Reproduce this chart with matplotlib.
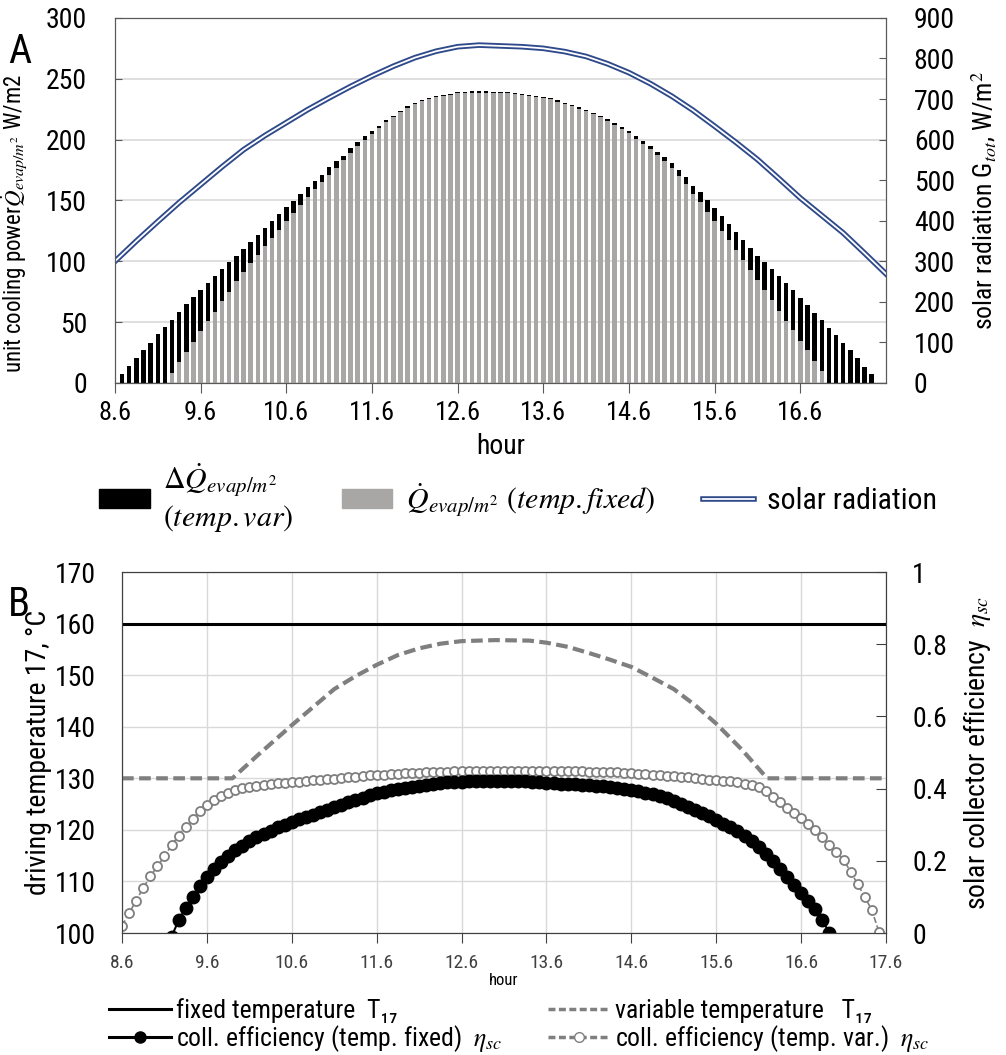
import numpy as np
import matplotlib
matplotlib.use('Agg')
import matplotlib.pyplot as plt
from matplotlib.patches import Patch
from matplotlib.lines import Line2D
import matplotlib.patheffects as pe

plt.rcParams['font.family'] = ['Roboto Condensed', 'Roboto', 'DejaVu Sans']
plt.rcParams['mathtext.fontset'] = 'stix'

# simulation time step: 5 minutes, starting at 8.6 h
t0 = 8.6
step = 1 / 12

# --- panel A: unit cooling power per 5 min step (W/m2) ---
q_fixed = [0, 0, 0, 0, 0, 0, 0, 8.5, 17.5, 25.5,
           34, 42.8, 50.8, 58.7, 67, 75, 83.4, 90.8, 98.5, 105,
           112.2, 119, 126, 132.8, 139.6, 146.5, 152.8, 159.4, 165.2, 171.2,
           176.7, 183, 189, 195, 199.7, 204.7, 209.6, 214.2, 218.4, 222.5,
           226, 229, 231.8, 233, 235.2, 235.9, 236.8, 237.9, 238.3, 238.6,
           238.6, 238.6, 238.3, 238.3, 238, 237.2, 236.6, 235.9, 235.2, 234.1,
           233, 231.2, 229.4, 227.5, 225.5, 223.6, 220.9, 218.7, 215.4, 212.1,
           208.5, 205.2, 200.8, 196.4, 192.3, 187.4, 182.1, 176.4, 169.8, 163.5,
           155.7, 148.4, 140.7, 133.1, 125.3, 117.1, 109.5, 101.2, 93, 84.8,
           76.5, 68.3, 59.5, 51.3, 43.6, 34.8, 27.2, 18.4, 10.1, 0,
           0, 0, 0, 0, 0, 0]
q_delta = [7.4, 14, 20.3, 27, 33, 40, 45.8, 43.3, 40.9, 39.3,
           36.5, 33.7, 31.2, 29.3, 26.8, 24.8, 21.1, 19.2, 17, 16.8,
           15.1, 13.8, 12.8, 11.5, 9.6, 8.8, 8.2, 6.9, 6, 6,
           5.4, 3.8, 4.2, 3.1, 3, 2.1, 1.9, 1.7, 1.4, 1.1,
           1.4, 1.1, 1.1, 1, 1, 1, 1, 1, 1, 1,
           1, 1, 1, 1, 1, 1, 1, 1, 1, 1,
           1, 1.1, 1.1, 1.1, 1.1, 1.1, 1.1, 1.1, 1.6, 1.6,
           1.6, 1.6, 1.9, 2.5, 2.7, 2.7, 3.7, 4.4, 5.5, 5.8,
           6.4, 8.2, 9.3, 10.4, 12.1, 13.8, 14.2, 16.5, 17.9, 19.7,
           23.3, 25.3, 28.6, 30.8, 32.9, 35.4, 37, 39.5, 41.8, 45.5,
           39.5, 33.2, 27.2, 20.3, 13.4, 7.4]
bar_hours = t0 + step * np.arange(1, len(q_fixed) + 1)

solar_hours = [8.6, 8.85, 9.1, 9.35, 9.6, 9.85, 10.1, 10.35, 10.6, 10.85,
               11.1, 11.35, 11.6, 11.85, 12.1, 12.35, 12.6, 12.85, 13.1, 13.35,
               13.6, 13.85, 14.1, 14.35, 14.6, 14.85, 15.1, 15.35, 15.6, 15.85,
               16.1, 16.35, 16.6, 16.85, 17.1, 17.35, 17.6]
solar_rad = [300, 350, 398, 445, 489, 533, 575, 610, 642, 674,
             703, 731, 757, 781, 802, 818, 829, 833, 831, 829,
             825, 817, 805, 787, 765, 738, 707, 672, 633, 593,
             551, 504, 456, 413, 370, 320, 269]

# --- panel B: driving temperature and collector efficiency ---
temp_fixed = 160
var_temp_hours = [8.6, 9.9, 10.2, 10.6, 10.9, 11.1, 11.35, 11.6, 11.85, 12.1,
                  12.35, 12.6, 13.0, 13.4, 13.6, 13.85, 14.1, 14.35, 14.6, 14.85,
                  15.1, 15.35, 15.6, 15.9, 16.2, 17.6]
var_temp = [130, 130, 134.5, 140.3, 144.5, 147.3, 149.8, 152.0, 153.9, 155.2,
            156.1, 156.6, 156.8, 156.7, 156.3, 155.5, 154.3, 153.0, 151.6, 149.5,
            147.3, 144.2, 140.6, 135.6, 130, 130]

eta_var = [0.02, 0.055, 0.09, 0.125, 0.157, 0.185, 0.213, 0.243, 0.27, 0.295,
           0.317, 0.337, 0.354, 0.368, 0.379, 0.388, 0.395, 0.401, 0.405, 0.408,
           0.411, 0.413, 0.415, 0.416, 0.418, 0.419, 0.421, 0.423, 0.424, 0.426,
           0.427, 0.429, 0.431, 0.433, 0.435, 0.437, 0.438, 0.439, 0.44, 0.441,
           0.442, 0.443, 0.444, 0.445, 0.446, 0.446, 0.447, 0.448, 0.449, 0.449,
           0.45, 0.45, 0.45, 0.45, 0.45, 0.45, 0.45, 0.45, 0.45, 0.449,
           0.449, 0.449, 0.449, 0.448, 0.448, 0.448, 0.447, 0.447, 0.447, 0.446,
           0.445, 0.444, 0.442, 0.441, 0.44, 0.439, 0.437, 0.436, 0.434, 0.432,
           0.431, 0.429, 0.427, 0.425, 0.424, 0.422, 0.42, 0.417, 0.414, 0.41,
           0.405, 0.393, 0.377, 0.362, 0.345, 0.332, 0.318, 0.303, 0.285, 0.265,
           0.245, 0.224, 0.203, 0.17, 0.135, 0.1, 0.063, 0.004]
eta_fixed = [-0.01, 0.035, 0.07, 0.1, 0.13, 0.155, 0.178, 0.198, 0.214, 0.229,
             0.242, 0.254, 0.265, 0.275, 0.284, 0.293, 0.3, 0.308, 0.315, 0.321,
             0.328, 0.335, 0.342, 0.349, 0.355, 0.362, 0.368, 0.374, 0.381, 0.387,
             0.391, 0.395, 0.398, 0.401, 0.404, 0.407, 0.41, 0.413, 0.415, 0.417,
             0.418, 0.419, 0.42, 0.42, 0.421, 0.421, 0.421, 0.421, 0.421, 0.42,
             0.42, 0.419, 0.418, 0.416, 0.415, 0.414, 0.413, 0.412, 0.411, 0.41,
             0.408, 0.406, 0.404, 0.402, 0.4, 0.397, 0.393, 0.389, 0.385, 0.38,
             0.373, 0.366, 0.358, 0.35, 0.342, 0.333, 0.323, 0.313, 0.303, 0.293,
             0.282, 0.27, 0.256, 0.238, 0.22, 0.2, 0.178, 0.156, 0.133, 0.11,
             0.088, 0.066, 0.036, 0.0]
eta_var_hours = t0 + step * np.arange(len(eta_var))
eta_fixed_hours = t0 + step * np.arange(7, 7 + len(eta_fixed))

hour_ticks = [8.6, 9.6, 10.6, 11.6, 12.6, 13.6, 14.6, 15.6, 16.6, 17.6]

navy = '#2F4A8A'
gray_bar = '#A9A6A6'
dgray = '#7F7F7F'
double_line = [pe.Stroke(linewidth=4.0, foreground=navy), pe.Normal()]

fig = plt.figure(figsize=(10.06, 10.55), dpi=100)

# ---------------- panel A ----------------
ax = fig.add_axes([0.1143, 0.637, 0.7664, 0.346])
ax.bar(bar_hours, q_fixed, width=0.052, color=gray_bar, zorder=2)
ax.bar(bar_hours, q_delta, width=0.052, bottom=q_fixed, color='black', zorder=2)
ax.set_xlim(8.6, 17.6)
ax.set_ylim(0, 300)
ax.set_yticks(range(0, 301, 50))
ax.set_xticks(hour_ticks[:-1])
ax.set_xticklabels([f'{h:.1f}' for h in hour_ticks[:-1]])
ax.yaxis.grid(True, color='#D9D9D9', lw=1.2)
ax.set_axisbelow(True)
ax.tick_params(axis='x', direction='out', length=7, labelsize=19, color='#595959', pad=6)
ax.tick_params(axis='y', direction='in', length=5, labelsize=20, color='#595959', pad=20)
for s in ax.spines.values():
    s.set_color('#595959')
ax.set_xlabel('hour', fontsize=20, labelpad=6)
ax.set_ylabel(r'unit cooling power$\dot{Q}_{evap/m^2}$ W/m2', fontsize=16.5, labelpad=2)
ax.yaxis.set_label_coords(-0.112, 0.435)

axr = ax.twinx()
axr.plot(solar_hours, solar_rad, color='white', lw=1.3, path_effects=double_line)
axr.set_ylim(0, 900)
axr.set_yticks(range(0, 901, 100))
axr.tick_params(axis='y', direction='in', length=5, labelsize=20, color='#595959', pad=20)
axr.set_ylabel(r'solar radiation G$_{tot}$, W/m$^2$', fontsize=18.5, labelpad=10)
for s in axr.spines.values():
    s.set_color('#595959')

fig.text(0.008, 0.94, 'A', fontsize=29)

top_handles = [Patch(color='black'), Patch(color=gray_bar),
               Line2D([], [], color='white', lw=1.3, path_effects=double_line)]
top_labels = ['$\\Delta\\dot{Q}_{evap/m^2}$\n$(temp.var)$',
              '$\\dot{Q}_{evap/m^2}\\ (temp.fixed)$',
              'solar radiation']
fig.legend(top_handles, top_labels, loc='center', bbox_to_anchor=(0.515, 0.528),
           ncol=3, frameon=False, fontsize=21.5, handlelength=1.7, handleheight=0.6,
           columnspacing=1.6, handletextpad=0.45)

# ---------------- panel B ----------------
ax2 = fig.add_axes([0.1213, 0.1156, 0.7594, 0.3422])
ax2.axhline(temp_fixed, color='black', lw=2.2, zorder=3)
ax2.plot(var_temp_hours, var_temp, color=dgray, lw=3, dashes=(2.8, 1.3), zorder=3)
ax2.set_xlim(8.6, 17.6)
ax2.set_ylim(100, 170)
ax2.set_yticks(range(100, 171, 10))
ax2.set_xticks(hour_ticks)
ax2.set_xticklabels([f'{h:.1f}' for h in hour_ticks])
ax2.grid(True, color='#D9D9D9', lw=1.0)
ax2.set_axisbelow(True)
ax2.tick_params(axis='x', direction='out', length=7, labelsize=14, color='#404040',
                labelcolor='#404040', pad=8)
ax2.tick_params(axis='y', length=0, labelsize=20, pad=19)
for s in ax2.spines.values():
    s.set_color('#404040')
ax2.set_xlabel('hour', fontsize=12, labelpad=1)
ax2.set_ylabel('driving temperature 17, °C', fontsize=20, labelpad=2)

ax2r = ax2.twinx()
ax2r.plot(eta_var_hours, eta_var, color=dgray, lw=1.2, ls='--', marker='o', ms=6.5,
          mfc='white', mec=dgray, mew=1.3, clip_on=True)
ax2r.plot(eta_fixed_hours, eta_fixed, color='black', lw=1.5, marker='o', ms=9,
          mfc='black', mec='black', clip_on=True)
ax2r.set_ylim(0, 1)
ax2r.set_yticks([0, 0.2, 0.4, 0.6, 0.8, 1])
ax2r.set_yticklabels(['0', '0.2', '0.4', '0.6', '0.8', '1'])
ax2r.tick_params(axis='y', direction='in', length=7, labelsize=20, color='#404040', pad=19)
ax2r.set_ylabel('solar collector efficiency  $\\eta_{sc}$', fontsize=20, labelpad=10)
for s in ax2r.spines.values():
    s.set_color('#404040')

fig.text(0.008, 0.416, 'B', fontsize=29)

bot_handles = [Line2D([], [], color='black', lw=2.2),
               Line2D([], [], color='black', lw=2.2, marker='o', ms=8),
               Line2D([], [], color=dgray, lw=2.5, dashes=(2, 1)),
               Line2D([], [], color=dgray, lw=2.5, dashes=(2, 1), marker='o', ms=7,
                      mfc='white', mec=dgray)]
bot_labels = ['fixed temperature  T\u2081\u2087',
              'coll. efficiency (temp. fixed)  $\\eta_{sc}$',
              'variable temperature   T\u2081\u2087',
              'coll. efficiency (temp. var.)  $\\eta_{sc}$']
fig.legend(bot_handles, bot_labels, loc='center', bbox_to_anchor=(0.516, 0.0275),
           ncol=2, frameon=False, fontsize=18.5, handlelength=2.4,
           columnspacing=1.8, handletextpad=0.2, labelspacing=0.0,
           borderaxespad=0.1)

fig.savefig('out.png', dpi=100)
